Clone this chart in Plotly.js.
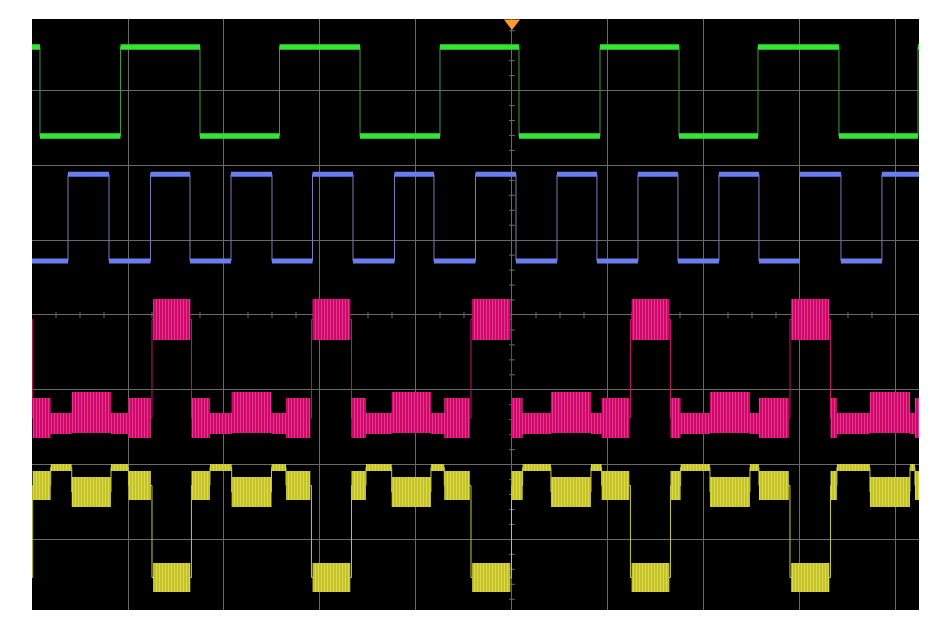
<!DOCTYPE html>
<html><head><meta charset="utf-8">
<script src="https://cdn.plot.ly/plotly-3.0.1.min.js"></script>
<style>html,body{margin:0;padding:0;background:#fff}#chart{width:944px;height:629px}</style>
</head><body><div id="chart"></div>
<script>
// Time axis: divisions relative to trigger (screen centre); voltage axis: divisions from centre.
// Channel 1 (green): edge times, starts high
const ch1Edges = [-4.917, -4.078, -3.25, -2.422, -1.583, -0.75, 0.073, 0.917, 1.740, 2.5625, 3.406, 4.229];
const ch1Levels = [2.393, 3.583];   // [low, high]
const ch1StartState = 1;

// Channel 2 (blue): edge times, starts low
const ch2Edges = [-4.625, -4.198, -3.766, -3.354, -2.927, -2.5, -2.078, -1.656, -1.224, -0.8125,
                  -0.380, 0.042, 0.469, 0.885, 1.3125, 1.729, 2.156, 2.573, 2.995, 3.427, 3.854];
const ch2Levels = [0.722, 1.881];
const ch2StartState = 0;

// Channels 3 (magenta) and 4 (yellow) share segment boundaries
const segBounds = [-5.2, -4.993, -4.805, -4.586, -4.177, -3.995, -3.75, -3.339, -3.146, -2.920, -2.505,
                   -2.354, -2.089, -1.672, -1.521, -1.253, -0.844, -0.705, -0.427, -0.005, 0.111,
                   0.406, 0.823, 0.934, 1.234, 1.651, 1.757, 2.0625, 2.479, 2.573, 2.896, 3.318,
                   3.385, 3.729, 4.146, 4.198, 4.30];
const segStates = ['H',
  'A','B','C','B','A','H',
  'A','B','C','B','A','H',
  'A','B','C','B','A','H',
  'A','B','C','B','A','H',
  'A','B','C','B','A','H',
  'A','B','C','B','A'];
const stateNames = ['H', 'A', 'B', 'C'];
const ch3Lo = [-0.334, -1.644, -1.591, -1.578];
const ch3Hi = [0.214, -1.110, -1.310, -1.029];
const ch4Lo = [-3.703, -2.473, -2.086, -2.567];
const ch4Hi = [-3.316, -2.086, -1.992, -2.166];

const triggerX = [0];

// ---------- build traces ----------
function stepTrace(edges, levels, start, color) {
  const x = [-5.3], y = [levels[start]];
  let s = start;
  edges.forEach(e => { s = 1 - s; x.push(e); y.push(levels[s]); });
  x.push(4.4); y.push(levels[s]);
  return {x, y, mode: 'lines', line: {shape: 'hv', color, width: 1}, hoverinfo: 'skip'};
}
function segTrace(edges, levels, start, color, w) {
  const b = [-5.3].concat(edges, [4.4]);
  const x = [], y = [];
  let s = start;
  for (let i = 0; i < b.length - 1; i++) {
    x.push(b[i], b[i + 1], null); y.push(levels[s], levels[s], null);
    s = 1 - s;
  }
  return {x, y, mode: 'lines', line: {color, width: w}, hoverinfo: 'skip'};
}
function bandEdgeTrace(lo, hi, color) {
  const x = [], y = [];
  for (let i = 0; i < segStates.length; i++) {
    const k = stateNames.indexOf(segStates[i]);
    x.push(segBounds[i]); y.push((lo[k] + hi[k]) / 2);
  }
  const kl = stateNames.indexOf(segStates[segStates.length - 1]);
  x.push(segBounds[segBounds.length - 1]); y.push((lo[kl] + hi[kl]) / 2);
  return {x, y, mode: 'lines', line: {shape: 'hv', color, width: 1}, hoverinfo: 'skip'};
}
function bandTrace(lo, hi, base, fg) {
  const x = [], y = [];
  for (let i = 0; i < segStates.length; i++) {
    const k = stateNames.indexOf(segStates[i]);
    const isH = segStates[i] === 'H';
    const nextH = segStates[i + 1] === 'H';
    const x0 = segBounds[i] + (isH ? 0.012 : 0), x1 = segBounds[i + 1] - (isH || nextH ? 0.012 : 0);
    x.push(x0, x1, x1, x0, x0, null);
    y.push(lo[k], lo[k], hi[k], hi[k], lo[k], null);
  }
  return {x, y, mode: 'lines', fill: 'toself', fillcolor: base,
    fillpattern: {shape: '|', bgcolor: base, fgcolor: fg, size: 3, solidity: 0.35},
    line: {width: 0, color: base}, hoverinfo: 'skip'};
}

const traces = [
  stepTrace(ch1Edges, ch1Levels, ch1StartState, '#3c9c3c'),
  segTrace(ch1Edges, ch1Levels, ch1StartState, '#34e634', 5.5),
  stepTrace(ch2Edges, ch2Levels, ch2StartState, '#7c7cb8'),
  segTrace(ch2Edges, ch2Levels, ch2StartState, '#6a7ef0', 5),
  bandEdgeTrace(ch3Lo, ch3Hi, '#c0186a'),
  bandTrace(ch3Lo, ch3Hi, '#d0086e', '#e2388a'),
  bandEdgeTrace(ch4Lo, ch4Hi, '#c8c838'),
  bandTrace(ch4Lo, ch4Hi, '#c4c42a', '#dada4c'),
  {x: triggerX, y: [3.904], mode: 'markers', cliponaxis: false, hoverinfo: 'skip',
   marker: {symbol: 'triangle-down', size: 14, color: '#ff9a2e', line: {width: 0}}}
];

// ---------- graticule minor ticks on centre lines ----------
const XR = [-5, 4.24], YR = [-3.944, 3.957];
const shapes = [];
for (let t = Math.ceil(XR[0] * 4) / 4; t <= XR[1]; t += 0.25) {
  if (Math.abs(t - Math.round(t)) < 1e-6) continue;
  shapes.push({type: 'line', xref: 'x', yref: 'y', x0: t, x1: t, y0: -0.04, y1: 0.04,
    line: {color: '#6a6a6a', width: 1}, layer: 'below'});
}
for (let v = Math.ceil(YR[0] * 5) / 5; v <= YR[1]; v += 0.2) {
  if (Math.abs(v - Math.round(v)) < 1e-6) continue;
  shapes.push({type: 'line', xref: 'x', yref: 'y', x0: -0.03, x1: 0.03, y0: v, y1: v,
    line: {color: '#6a6a6a', width: 1}, layer: 'below'});
}

const axisCommon = {showticklabels: false, ticks: '', showgrid: true, gridcolor: '#6a6a6a', gridwidth: 1,
  zeroline: true, zerolinecolor: '#6a6a6a', zerolinewidth: 1, showline: false, fixedrange: true, dtick: 1, tick0: 0};

const layout = {
  width: 944, height: 629,
  margin: {l: 32, r: 25, t: 19, b: 19, pad: 0},
  paper_bgcolor: '#ffffff', plot_bgcolor: '#000000',
  showlegend: false,
  xaxis: Object.assign({range: XR}, axisCommon),
  yaxis: Object.assign({range: YR}, axisCommon),
  shapes
};

Plotly.newPlot('chart', traces, layout, {staticPlot: true, displayModeBar: false});
</script>
</body></html>
